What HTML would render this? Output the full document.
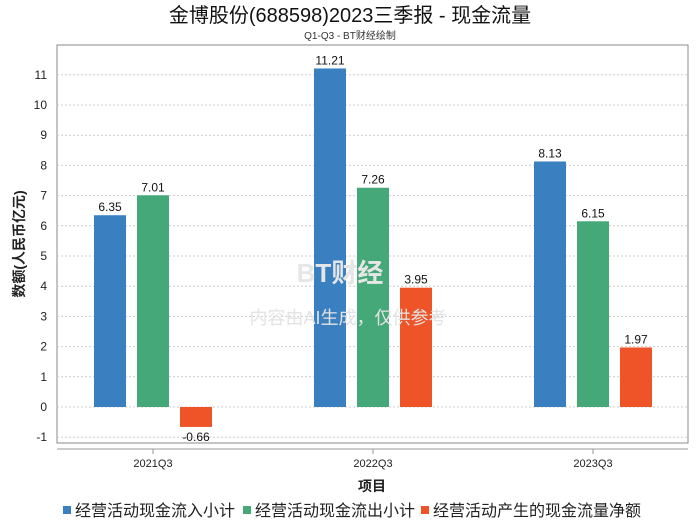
<!DOCTYPE html>
<html><head><meta charset="utf-8"><style>
body{margin:0;background:#fff;font-family:"Liberation Sans","Noto Sans CJK SC",sans-serif;}
svg text{font-family:"Liberation Sans","Noto Sans CJK SC",sans-serif;}
</style></head><body>
<svg id="chart" width="700" height="524">
<text x="350" y="22" text-anchor="middle" font-size="20" fill="#111">金博股份(688598)2023三季报 - 现金流量</text>
<text x="350" y="39" text-anchor="middle" font-size="10" fill="#333">Q1-Q3 - BT财经绘制</text>
<rect x="57" y="45" width="631" height="398" fill="none" stroke="#888"/>
<g id="grid"></g>
<g id="bars"></g>
<text x="340" y="282" text-anchor="middle" font-size="26" fill="#e6e6e6" font-weight="bold">BT财经</text>
<text x="348" y="324" text-anchor="middle" font-size="18" fill="#e3e3e3">内容由AI生成，仅供参考</text>
<line x1="57" y1="449" x2="688" y2="449" stroke="#999"/>
<g id="xaxis"></g>
<text x="372" y="491" text-anchor="middle" font-size="14" font-weight="bold" fill="#222">项目</text>
<text transform="translate(24,244) rotate(-90)" text-anchor="middle" font-size="14" font-weight="bold" fill="#222">数额(人民币亿元)</text>
<g id="legend"></g>
</svg>
<script>
const categories=["2021Q3","2022Q3","2023Q3"];
const seriesNames=["经营活动现金流入小计","经营活动现金流出小计","经营活动产生的现金流量净额"];
const inflow=[6.35,11.21,8.13];
const outflow=[7.01,7.26,6.15];
const net=[-0.66,3.95,1.97];
const yTicks=[-1,0,1,2,3,4,5,6,7,8,9,10,11];
const colors=["#3a7fc0","#45a878","#ee5428"];
const series=[inflow,outflow,net];
const NS="http://www.w3.org/2000/svg";
const y=v=>407-v*30.2;
const xc=i=>153+i*220;
function mk(t,a,p){const e=document.createElementNS(NS,t);for(const k in a)e.setAttribute(k,a[k]);p.appendChild(e);return e;}
const grid=document.getElementById('grid');
yTicks.forEach(v=>{
 const l=mk('line',{x1:57,x2:688,y1:y(v),y2:y(v),stroke:'#ccc','stroke-dasharray':'2,2'},grid);
 
 
 const t=mk('text',{x:47,y:y(v)+4,'text-anchor':'end','font-size':12,fill:'#222'},grid);
 t.textContent=v;
 
 
});
const bars=document.getElementById('bars');
categories.forEach((c,i)=>{
 series.forEach((s,j)=>{
  const v=s[i];const x=xc(i)+(j-1)*43-16;
  const r=mk('rect',{x:x,y:Math.min(y(v),y(0)),width:32,height:Math.abs(y(v)-y(0)),fill:colors[j]},bars);
  
  
  const t=mk('text',{x:x+16,y:v>=0?y(v)-4:y(v)+14,'text-anchor':'middle','font-size':12,fill:'#111'},bars);
  t.textContent=v.toFixed(2);
  
  
 });
 const xa=document.getElementById('xaxis');
 const tk=mk('line',{x1:xc(i),x2:xc(i),y1:449,y2:454,stroke:'#999'},xa);
 
 
 const t=mk('text',{x:xc(i),y:467,'text-anchor':'middle','font-size':11,fill:'#222'},xa);
 t.textContent=c;
 
 
});
const lg=document.getElementById('legend');
const lx=[63,243,421];
seriesNames.forEach((n,j)=>{
 const r=mk('rect',{x:lx[j],y:506,width:8,height:8,fill:colors[j]},lg);
 
 
 const t=mk('text',{x:lx[j]+12,y:516,'font-size':16,fill:'#222'},lg);
 t.textContent=n;
 
 
});
</script>
</body></html>
